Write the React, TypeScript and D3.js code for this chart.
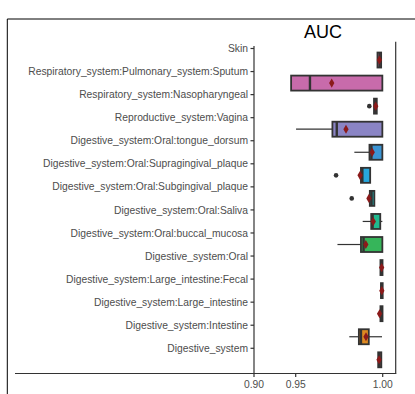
import React from "react";
import * as d3 from "d3";

const categories = [
  "Skin",
  "Respiratory_system:Pulmonary_system:Sputum",
  "Respiratory_system:Nasopharyngeal",
  "Reproductive_system:Vagina",
  "Digestive_system:Oral:tongue_dorsum",
  "Digestive_system:Oral:Supragingival_plaque",
  "Digestive_system:Oral:Subgingival_plaque",
  "Digestive_system:Oral:Saliva",
  "Digestive_system:Oral:buccal_mucosa",
  "Digestive_system:Oral",
  "Digestive_system:Large_intestine:Fecal",
  "Digestive_system:Large_intestine",
  "Digestive_system:Intestine",
  "Digestive_system",
];

const q1Values = [0.997, 0.9445, 0.995, 0.9711, 0.9924, 0.9875, 0.9926, 0.9934, 0.9875, 0.9987, 0.999, 0.9987, 0.9863, 0.9974];
const medianValues = [0.9982, 0.9582, 0.9958, 0.9736, 0.9935, 0.9883, 0.9936, 0.9942, 0.989, 0.9994, 0.9995, 0.9994, 0.9875, 0.9982];
const q3Values = [0.9991, 0.9998, 0.9966, 0.9998, 0.9998, 0.9928, 0.9952, 0.9986, 0.9998, 0.9999, 1.0, 0.9999, 0.992, 0.9992];
const whiskerLow = [0.997, 0.9445, 0.995, 0.9502, 0.9837, 0.9875, 0.9926, 0.9885, 0.974, 0.9987, 0.999, 0.9978, 0.9808, 0.9974];
const whiskerHigh = [0.9991, 0.9998, 0.9966, 0.9998, 0.9998, 0.9928, 0.9952, 0.9998, 0.9998, 0.9999, 1.0, 0.9999, 0.9996, 0.9992];
const meanValues = [0.9981, 0.9707, 0.996, 0.9789, 0.994, 0.987, 0.9921, 0.9946, 0.9903, 0.9994, 0.9995, 0.9982, 0.9904, 0.9979];
const outlierCats = [2, 5, 6];
const outlierValues = [0.9923, 0.9732, 0.9822];
const fillColors = [
  "#D9689A", "#C86BAB", "#C06FC9", "#8A84C4", "#3C95D4", "#27A7DE", "#1DB2B0",
  "#20B98F", "#36B55A", "#5AA83A", "#8C9A2E", "#B08F2A", "#DD8A22", "#D9705F",
];
const xTicks = [0.9, 0.95, 1.0];
const title = "AUC";

export default function App() {
  const x = d3.scaleLinear().domain([0.9, 0.95, 1.0]).range([254, 295.7, 382.7]);
  const y = d3.scaleBand<string>().domain(categories).range([48.5, 48.5 + 14 * 23.06]).padding(0);
  const step = y.step();
  const boxH = 15;
  const dark = "#333333";
  const font = "'Liberation Sans', Arial, sans-serif";
  const diamond = d3.symbol().type(d3.symbolDiamond).size(24)() as string;

  return (
    <svg width={415} height={394} style={{ position: "absolute", left: 0, top: 0 }}>
      <rect x={0} y={0} width={415} height={394} fill="#ffffff" />
      {/* outer frame */}
      <line x1={7.3} x2={415} y1={19} y2={19} stroke="#000" strokeWidth={1} />
      <line x1={7.3} x2={7.3} y1={19} y2={394} stroke="#000" strokeWidth={1} />
      {/* title */}
      <text x={323} y={38.3} textAnchor="middle" fontFamily={font} fontSize={18} fill="#000">
        {title}
      </text>
      {/* axes */}
      <line x1={254} x2={254} y1={46} y2={373.5} stroke={dark} strokeWidth={1.2} />
      <line x1={395.7} x2={395.7} y1={41.7} y2={373.5} stroke={dark} strokeWidth={1.2} />
      <line x1={15} x2={396.3} y1={373.5} y2={373.5} stroke={dark} strokeWidth={1.2} />
      {categories.map((c) => (
        <g key={"yt" + c}>
          <line x1={250.5} x2={254} y1={y(c)!} y2={y(c)!} stroke={dark} strokeWidth={1.2} />
          <text x={248} y={y(c)!} dy="0.35em" textAnchor="end" fontFamily={font} fontSize={10.3} fill="#4D4D4D">
            {c}
          </text>
        </g>
      ))}
      {xTicks.map((t) => (
        <g key={"xt" + t}>
          <line x1={x(t)} x2={x(t)} y1={373.5} y2={377} stroke={dark} strokeWidth={1.2} />
          <text x={x(t)} y={387.5} textAnchor="middle" fontFamily={font} fontSize={10.3} fill="#4D4D4D">
            {t.toFixed(2)}
          </text>
        </g>
      ))}
      {/* boxes */}
      {categories.map((c, i) => {
        const cy = y(c)! + step / 2;
        return (
          <g key={"box" + c}>
            {whiskerLow[i] < q1Values[i] && (
              <line x1={x(whiskerLow[i])} x2={x(q1Values[i])} y1={cy} y2={cy} stroke={dark} strokeWidth={1.2} />
            )}
            {whiskerHigh[i] > q3Values[i] && (
              <line x1={x(q3Values[i])} x2={x(whiskerHigh[i])} y1={cy} y2={cy} stroke={dark} strokeWidth={1.2} />
            )}
            <rect
              x={x(q1Values[i])}
              y={cy - boxH / 2}
              width={Math.max(0.5, x(q3Values[i]) - x(q1Values[i]))}
              height={boxH}
              fill={fillColors[i]}
              stroke={dark}
              strokeWidth={1.8}
            />
            <line
              x1={x(medianValues[i])}
              x2={x(medianValues[i])}
              y1={cy - boxH / 2}
              y2={cy + boxH / 2}
              stroke={dark}
              strokeWidth={2.4}
            />
            <path d={diamond} transform={`translate(${x(meanValues[i])},${cy})`} fill="#8B1A1A" />
          </g>
        );
      })}
      {outlierCats.map((ci, k) => (
        <circle
          key={"o" + k}
          cx={x(outlierValues[k])}
          cy={y(categories[ci])! + step / 2}
          r={2.3}
          fill={dark}
        />
      ))}
    </svg>
  );
}
